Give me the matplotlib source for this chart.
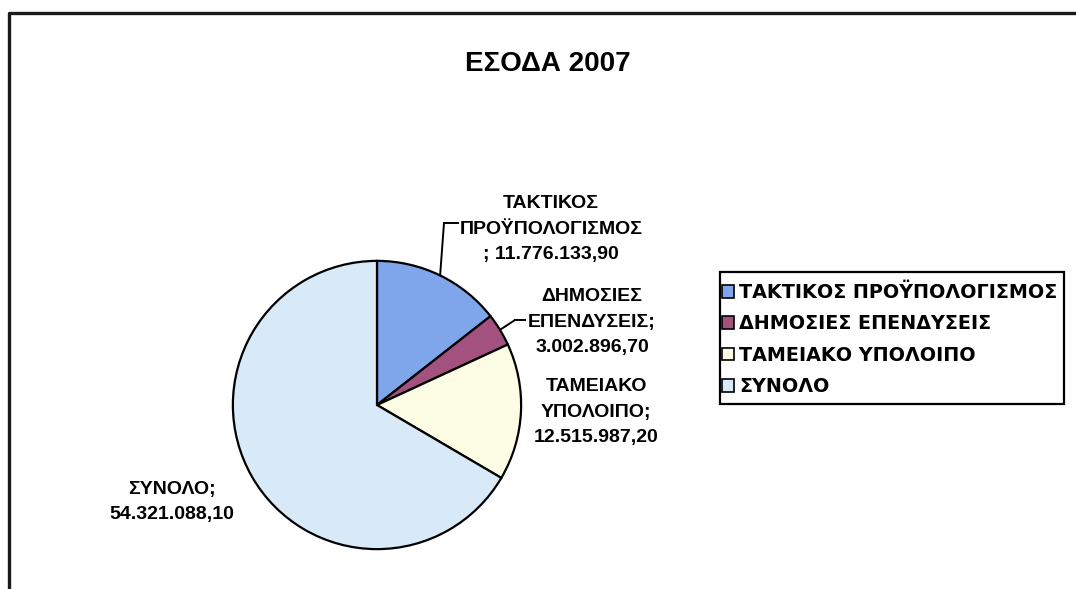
import numpy as np
import matplotlib
matplotlib.use('Agg')
import matplotlib.pyplot as plt
from matplotlib.lines import Line2D
from matplotlib.patches import Rectangle

# data
categories = ['ΤΑΚΤΙΚΟΣ ΠΡΟΫΠΟΛΟΓΙΣΜΟΣ', 'ΔΗΜΟΣΙΕΣ ΕΠΕΝΔΥΣΕΙΣ',
              'ΤΑΜΕΙΑΚΟ ΥΠΟΛΟΙΠΟ', 'ΣΥΝΟΛΟ']
values = [11776133.90, 3002896.70, 12515987.20, 54321088.10]
value_labels = ['11.776.133,90', '3.002.896,70', '12.515.987,20', '54.321.088,10']
label_texts = ['ΤΑΚΤΙΚΟΣ\nΠΡΟΫΠΟΛΟΓΙΣΜΟΣ\n; ' + value_labels[0],
               'ΔΗΜΟΣΙΕΣ\nΕΠΕΝΔΥΣΕΙΣ;\n' + value_labels[1],
               'ΤΑΜΕΙΑΚΟ\nΥΠΟΛΟΙΠΟ;\n' + value_labels[2],
               'ΣΥΝΟΛΟ;\n' + value_labels[3]]
slice_colors = ['#7fa6ea', '#a3527f', '#fdfde6', '#d8eaf8']
title = 'ΕΣΟΔΑ 2007'

W, H = 1076, 589
plt.rcParams['font.family'] = ['Liberation Sans', 'DejaVu Sans']


def fp(x, y):
    # pixel position (top-left origin) -> figure fraction
    return x / W, 1 - y / H


fig = plt.figure(figsize=(W / 100, H / 100), dpi=100)
fig.patch.set_facecolor('white')

# outer chart frame
fig.add_artist(Line2D([9 / W, 9 / W, 1.0], [0.0, 1 - 13 / H, 1 - 13 / H],
                      transform=fig.transFigure, color='#1a1a1a', lw=2.4))

cx, cy, r = 377, 405, 147
ax = fig.add_axes([(cx - r) / W, 1 - (cy + r) / H, 2 * r / W, 2 * r / H])
wedges, _ = ax.pie(values, colors=slice_colors, startangle=90, counterclock=False,
                   radius=1, wedgeprops=dict(edgecolor='black', linewidth=1.6))
ax.set_xlim(-1.02, 1.02)
ax.set_ylim(-1.02, 1.02)
ax.set_aspect('equal')
ax.axis('off')

fig.text(*fp(548, 64), title, ha='center', va='center', fontsize=20, fontweight='bold')

label_pos = [(551, 229), (592, 322), (596, 412), (172, 502)]
fs = 14
for txt, (lx, ly) in zip(label_texts, label_pos):
    fig.text(*fp(lx, ly), txt, ha='center', va='center', fontsize=fs,
             fontweight='bold', multialignment='center', linespacing=1.62)

# leader lines for the two small top slices
elbows = [((444, 223), (458, 223)), ((515, 320), (525, 320))]
for w, (elbow, end) in zip(wedges[:2], elbows):
    mid = np.deg2rad((w.theta1 + w.theta2) / 2)
    ax.annotate('', xy=(np.cos(mid), np.sin(mid)), xycoords='data',
                xytext=fp(*elbow), textcoords='figure fraction',
                arrowprops=dict(arrowstyle='-', lw=1.4, color='black',
                                shrinkA=0, shrinkB=0))
    fig.add_artist(Line2D([elbow[0] / W, end[0] / W], [1 - elbow[1] / H, 1 - end[1] / H],
                          transform=fig.transFigure, color='black', lw=1.4))

# legend box drawn separately so its padding can follow the original
bx0, by0, bx1, by1 = 720, 272, 1064, 404
fig.add_artist(Rectangle(fp(bx0, by1), (bx1 - bx0) / W, (by1 - by0) / H,
                         transform=fig.transFigure, fill=False, edgecolor='black', lw=1.6))
leg = fig.legend(wedges, categories, loc='upper left', bbox_to_anchor=fp(720, 281),
                 bbox_transform=fig.transFigure,
                 prop=dict(family='DejaVu Sans', weight='bold', size=13.8),
                 frameon=False, handlelength=0.65, handleheight=0.65,
                 handletextpad=0.25, labelspacing=0.65, borderpad=0.1, borderaxespad=0)
for h in leg.legend_handles:
    h.set_edgecolor('black')
    h.set_linewidth(1.2)

fig.savefig('out.png', dpi=100, facecolor='white')
